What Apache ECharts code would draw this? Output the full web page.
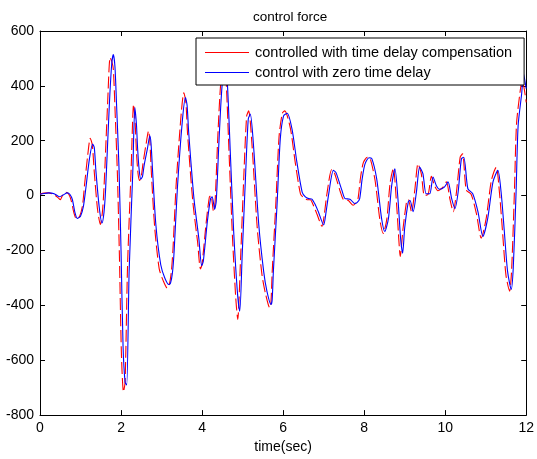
<!DOCTYPE html>
<html>
<head>
<meta charset="utf-8">
<script src="https://cdn.jsdelivr.net/npm/echarts@6/dist/echarts.min.js"></script>
<style>
  html, body { margin: 0; padding: 0; background: #fff; }
  #chart { width: 537px; height: 459px; }
</style>
</head>
<body>
<div id="chart"></div>
<script>
// Control force time histories (seconds, force)
const compTime = [0,0.1,0.2,0.33,0.45,0.5,0.56,0.64,0.71,0.77,0.84,0.9,0.98,1.05,1.1,1.18,1.24,1.29,1.34,1.42,1.49,1.54,1.58,1.67,1.73,1.77,1.81,1.85,1.91,1.96,2.01,2.06,2.1,2.16,2.25,2.31,2.35,2.38,2.42,2.46,2.5,2.54,2.62,2.68,2.71,2.75,2.83,2.94,3.04,3.14,3.19,3.24,3.28,3.36,3.48,3.55,3.6,3.64,3.77,3.89,3.96,4.0,4.1,4.18,4.22,4.28,4.32,4.39,4.47,4.55,4.59,4.67,4.75,4.83,4.88,4.95,5.03,5.1,5.15,5.23,5.36,5.48,5.57,5.67,5.7,5.73,5.82,5.9,5.98,6.04,6.18,6.3,6.43,6.51,6.59,6.67,6.76,6.83,6.96,7.02,7.08,7.2,7.26,7.32,7.41,7.49,7.61,7.73,7.79,7.85,7.91,7.98,8.08,8.15,8.27,8.39,8.47,8.56,8.64,8.72,8.8,8.86,8.89,8.96,9.05,9.09,9.17,9.25,9.33,9.41,9.49,9.58,9.66,9.74,9.82,9.94,10.03,10.12,10.2,10.28,10.37,10.43,10.52,10.64,10.77,10.89,11.01,11.14,11.26,11.34,11.42,11.5,11.59,11.64,11.71,11.76,11.85,11.9,11.95,12.0];
const compForce = [6,9,10,5,-8,-15,2,12,5,-18,-65,-85,-75,-35,40,150,209,185,85,-50,-105,-60,30,340,503,490,460,320,80,-220,-580,-715,-680,-260,100,333,260,160,80,55,70,115,190,236,200,80,-115,-265,-310,-337,-325,-280,-200,40,290,375,340,230,-20,-170,-267,-250,-100,-5,0,-55,-25,220,425,460,430,140,-150,-370,-451,-230,70,290,309,190,-115,-290,-360,-409,-390,-280,-30,215,300,309,245,120,5,-8,-15,-15,-40,-65,-112,-65,5,95,85,58,15,-15,-18,-35,-28,-10,65,120,140,135,55,-90,-138,-85,45,100,-30,-170,-222,-120,-20,-15,-60,20,116,80,0,5,70,35,18,30,50,-15,-59,15,140,152,20,5,-65,-155,-85,55,104,10,-140,-290,-348,-270,20,260,380,420,390,340];

const zeroTime = [0,0.1,0.22,0.35,0.48,0.58,0.67,0.74,0.8,0.86,0.92,1.0,1.07,1.13,1.22,1.3,1.34,1.38,1.46,1.53,1.58,1.62,1.71,1.77,1.81,1.85,1.89,1.95,2.0,2.05,2.1,2.14,2.2,2.29,2.34,2.38,2.41,2.45,2.49,2.53,2.57,2.65,2.71,2.74,2.78,2.86,2.98,3.08,3.18,3.22,3.27,3.31,3.39,3.51,3.59,3.63,3.67,3.8,3.92,3.99,4.03,4.13,4.21,4.25,4.31,4.35,4.42,4.5,4.58,4.62,4.7,4.78,4.87,4.93,4.99,5.07,5.14,5.19,5.27,5.4,5.52,5.6,5.7,5.73,5.76,5.85,5.93,6.01,6.1,6.22,6.34,6.47,6.55,6.63,6.71,6.8,6.87,7.0,7.06,7.12,7.24,7.3,7.36,7.45,7.53,7.65,7.77,7.83,7.89,7.95,8.02,8.12,8.19,8.31,8.43,8.51,8.6,8.68,8.76,8.84,8.9,8.95,9.0,9.09,9.13,9.21,9.29,9.37,9.45,9.53,9.62,9.7,9.78,9.86,9.98,10.07,10.16,10.24,10.32,10.4,10.46,10.56,10.68,10.81,10.93,11.05,11.18,11.3,11.38,11.46,11.54,11.63,11.68,11.75,11.8,11.89,11.93,11.99,12.0];
const zeroForce = [5,8,10,7,-4,3,10,4,-15,-60,-83,-75,-40,25,134,188,175,90,-40,-100,-60,25,327,480,514,470,330,100,-200,-550,-680,-690,-275,86,321,260,170,90,60,70,110,170,218,190,86,-107,-252,-300,-324,-320,-280,-204,25,267,357,330,230,-11,-156,-255,-240,-95,-11,-4,-50,-20,206,411,450,423,146,-131,-348,-421,-216,61,279,297,182,-107,-276,-348,-397,-380,-276,-35,206,290,300,242,122,13,-5,-11,-13,-35,-59,-107,-60,1,92,85,61,20,-11,-13,-29,-25,-11,60,115,138,135,61,-83,-131,-83,37,98,-23,-156,-210,-119,-23,-17,-59,13,104,80,7,7,68,37,23,31,50,-11,-47,13,134,140,25,7,-59,-149,-83,50,92,13,-131,-276,-342,-264,13,254,375,447,399,390];

const xTicks = { min: 0, max: 12, step: 2 };
const yTicks = { min: -800, max: 600, step: 200 };

const seriesNames = ['controlled with time delay compensation', 'control with zero time delay'];

function pairs(xs, ys) { return xs.map((x, i) => [x, ys[i]]); }

const FONT = 'Liberation Sans, Arial, Helvetica, sans-serif';
const axisLine = { show: true, onZero: false, lineStyle: { color: '#000', width: 1 } };
const tickIn = { show: true, inside: true, length: 5, lineStyle: { color: '#000' } };

const chart = echarts.init(document.getElementById('chart'), null, { renderer: 'canvas' });
chart.setOption({
  animation: false,
  backgroundColor: '#fff',
  textStyle: { fontFamily: FONT },
  title: {
    text: 'control force', left: 248, top: 5,
    textStyle: { fontFamily: FONT, fontSize: 13.5, fontWeight: 'normal', color: '#000' }
  },
  grid: { left: 40, top: 31, right: 7, bottom: 41, containLabel: false },
  legend: {
    show: true,
    orient: 'vertical', left: 196, top: 38,
    backgroundColor: '#fff', borderColor: '#000', borderWidth: 1,
    padding: [7, 12, 5, 9], itemGap: 5, itemWidth: 44, itemHeight: 1.2,
    icon: 'rect',
    textStyle: { fontFamily: FONT, fontSize: 14.5, color: '#000', padding: [0, 0, 0, 1] },
    data: seriesNames
  },
  xAxis: [
    {
      type: 'value', position: 'bottom', min: xTicks.min, max: xTicks.max, interval: xTicks.step,
      axisLine, axisTick: tickIn, splitLine: { show: false },
      axisLabel: { fontFamily: FONT, fontSize: 14, color: '#000', margin: 6 },
      name: 'time(sec)', nameLocation: 'middle', nameGap: 24,
      nameTextStyle: { fontFamily: FONT, fontSize: 14, color: '#000' }
    },
    {
      type: 'value', position: 'top', min: xTicks.min, max: xTicks.max, interval: xTicks.step,
      axisLine, axisTick: tickIn, splitLine: { show: false }, axisLabel: { show: false }
    }
  ],
  yAxis: [
    {
      type: 'value', position: 'left', min: yTicks.min, max: yTicks.max, interval: yTicks.step,
      axisLine, axisTick: tickIn, splitLine: { show: false },
      axisLabel: { fontFamily: FONT, fontSize: 14, color: '#000', margin: 6 }
    },
    {
      type: 'value', position: 'right', min: yTicks.min, max: yTicks.max, interval: yTicks.step,
      axisLine, axisTick: tickIn, splitLine: { show: false }, axisLabel: { show: false }
    }
  ],
  series: [
    {
      name: seriesNames[0], type: 'line', xAxisIndex: 0, yAxisIndex: 0,
      data: pairs(compTime, compForce), symbol: 'none', smooth: 0.25,
      lineStyle: { color: '#ff0000', width: 1.1, type: [12, 4] },
      itemStyle: { color: '#ff0000' }, z: 2
    },
    {
      name: seriesNames[1], type: 'line', xAxisIndex: 0, yAxisIndex: 0,
      data: pairs(zeroTime, zeroForce), symbol: 'none', smooth: 0.25,
      lineStyle: { color: '#0000ff', width: 1.1 },
      itemStyle: { color: '#0000ff' }, z: 3
    }
  ]
});
</script>
</body>
</html>
